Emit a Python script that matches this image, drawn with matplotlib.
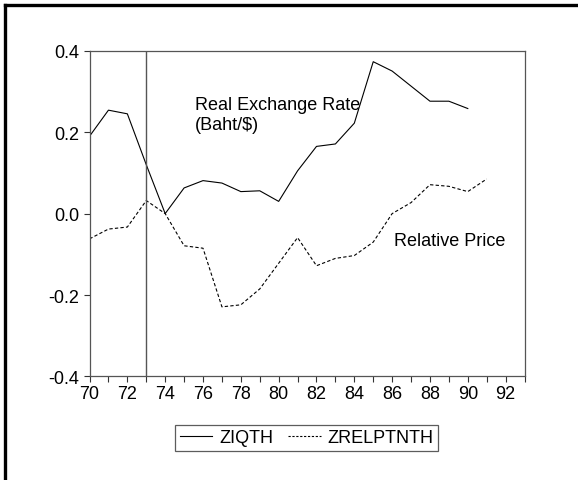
import matplotlib
matplotlib.use("Agg")
import matplotlib.pyplot as plt
from matplotlib.lines import Line2D

plt.rcParams['font.family'] = ['Liberation Sans', 'DejaVu Sans']

# real exchange rate (solid), 1970-1990
years_q = list(range(70, 91))
ziqth = [0.190, 0.254, 0.245, 0.120, 0.000, 0.063, 0.081, 0.075, 0.054, 0.056,
         0.030, 0.105, 0.165, 0.171, 0.222, 0.373, 0.350, 0.313, 0.276, 0.276,
         0.258]

# relative price (dashed), 1970-1991
years_p = list(range(70, 92))
zrelptnth = [-0.062, -0.038, -0.033, 0.032, 0.000, -0.079, -0.085, -0.229, -0.224,
             -0.185, -0.122, -0.059, -0.128, -0.110, -0.103, -0.070, 0.000, 0.027,
             0.071, 0.067, 0.054, 0.085]

xticks = list(range(70, 93, 2))
yticks = [-0.4, -0.2, 0.0, 0.2, 0.4]
break_year = 73

fig = plt.figure(figsize=(5.78, 4.81), dpi=100)
ax = fig.add_axes([0.1549, 0.2152, 0.7526, 0.6773])

ax.plot(years_q, ziqth, color='black', lw=0.8, label='ZIQTH')
ax.plot(years_p, zrelptnth, color='black', lw=0.8, linestyle=(0, (3, 2)),
        label='ZRELPTNTH')
ax.axvline(break_year, color='#555555', lw=1.0)

ax.set_xlim(70, 93)
ax.set_ylim(-0.4, 0.4)
ax.set_xticks(range(70, 94), minor=True)
ax.set_xticks(xticks)
ax.set_xticklabels([str(v) for v in xticks])
ax.set_yticks(yticks)
ax.set_yticklabels(['%.1f' % v for v in yticks])
ax.tick_params(axis='both', labelsize=13, length=4, width=0.8, color='#333333',
               direction='out')
ax.tick_params(axis='x', which='minor', length=4, width=0.8, color='#333333')
ax.tick_params(axis='x', pad=2)
for s in ax.spines.values():
    s.set_color('#555555')
    s.set_linewidth(0.9)

ax.text(75.55, 0.29, 'Real Exchange Rate\n(Baht/$)', fontsize=13, va='top',
        ha='left', linespacing=1.3)
ax.text(86.1, -0.044, 'Relative Price', fontsize=13, va='top', ha='left')

handles = [Line2D([], [], color='black', lw=0.8),
           Line2D([], [], color='black', lw=0.8, linestyle=(0, (2, 1.5)))]
leg = fig.legend(handles, ['ZIQTH', 'ZRELPTNTH'], loc='center',
                 bbox_to_anchor=(0.531, 0.088), ncol=2, fontsize=13,
                 frameon=True, fancybox=False, handlelength=1.8,
                 handletextpad=0.4, columnspacing=0.8, borderpad=0.25,
                 borderaxespad=0)
leg.get_frame().set_edgecolor('#333333')
leg.get_frame().set_linewidth(0.9)

# frame edges at top and left of the picture
fig.add_artist(Line2D([0.0095, 1.0], [0.9885, 0.9885], color='black', lw=2.4,
                      transform=fig.transFigure))
fig.add_artist(Line2D([0.0095, 0.0095], [0.0, 0.9885], color='black', lw=2.4,
                      transform=fig.transFigure))

fig.savefig('out.png', dpi=100)
